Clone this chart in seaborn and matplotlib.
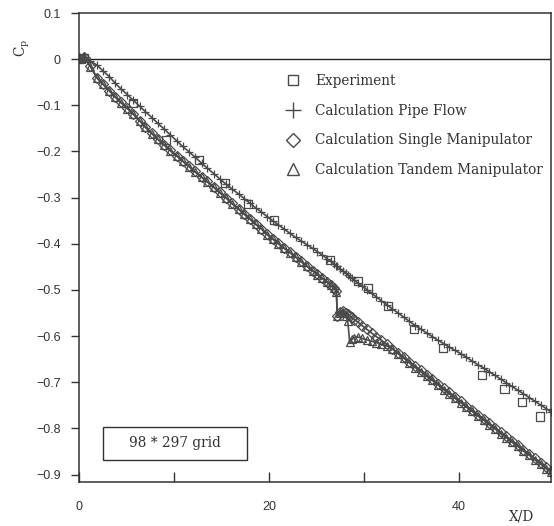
import numpy as np
import seaborn as sns
import matplotlib.pyplot as plt
from matplotlib.lines import Line2D
from matplotlib.patches import Rectangle

# streamwise stations of the calculations (X/D)
x_calc = [0, 0.5, 1.2, 1.9, 2.5, 3.2, 3.8, 4.4, 5.1, 5.7, 6.4, 7.0, 7.7, 8.3, 9.0,
          9.6, 10.3, 10.9, 11.6, 12.2, 12.9, 13.5, 14.2, 14.8, 15.5, 16.1, 16.8, 17.4,
          18.0, 18.6, 19.2, 19.8, 20.4, 21.0, 21.6, 22.2, 22.8, 23.4, 24.0, 24.6, 25.1,
          25.6, 26.1, 26.5, 26.9, 27.1, 27.2, 27.5, 27.8, 28.1, 28.3, 28.5, 28.7, 29.0,
          29.4, 29.8, 30.3, 30.8, 31.3, 31.8, 32.4, 33.0, 33.6, 34.2, 34.8, 35.4, 36.0,
          36.6, 37.2, 37.8, 38.4, 39.0, 39.6, 40.2, 40.8, 41.4, 42.0, 42.6, 43.2, 43.8,
          44.4, 45.0, 45.6, 46.2, 46.8, 47.4, 48.0, 48.6, 49.2, 49.7]

cp_pipe = [0.003, 0.004, -0.004, -0.013, -0.025, -0.038, -0.052, -0.064, -0.077, -0.089,
           -0.102, -0.114, -0.127, -0.139, -0.152, -0.164, -0.177, -0.189, -0.201, -0.212,
           -0.225, -0.236, -0.248, -0.259, -0.271, -0.281, -0.292, -0.302, -0.312, -0.322,
           -0.331, -0.341, -0.350, -0.359, -0.368, -0.377, -0.386, -0.394, -0.402, -0.410,
           -0.417, -0.424, -0.432, -0.438, -0.444, -0.447, -0.449, -0.454, -0.459, -0.464,
           -0.468, -0.471, -0.474, -0.479, -0.485, -0.491, -0.499, -0.507, -0.515, -0.523,
           -0.532, -0.541, -0.550, -0.559, -0.568, -0.577, -0.585, -0.593, -0.601, -0.609,
           -0.616, -0.624, -0.631, -0.638, -0.646, -0.654, -0.662, -0.669, -0.677, -0.685,
           -0.693, -0.701, -0.709, -0.717, -0.725, -0.733, -0.741, -0.749, -0.757, -0.764]

cp_single = [0.002, 0.004, -0.015, -0.040, -0.053, -0.068, -0.081, -0.093, -0.106, -0.118,
             -0.133, -0.147, -0.161, -0.173, -0.186, -0.197, -0.209, -0.220, -0.232, -0.243,
             -0.255, -0.265, -0.277, -0.288, -0.300, -0.312, -0.324, -0.335, -0.346, -0.357,
             -0.367, -0.379, -0.389, -0.399, -0.409, -0.418, -0.428, -0.438, -0.448, -0.458,
             -0.466, -0.474, -0.482, -0.489, -0.495, -0.503, -0.556, -0.547, -0.545, -0.549,
             -0.552, -0.556, -0.559, -0.564, -0.570, -0.577, -0.585, -0.593, -0.601, -0.608,
             -0.618, -0.627, -0.636, -0.646, -0.655, -0.665, -0.674, -0.684, -0.693, -0.703,
             -0.713, -0.722, -0.732, -0.741, -0.751, -0.760, -0.770, -0.779, -0.789, -0.798,
             -0.808, -0.817, -0.827, -0.836, -0.846, -0.855, -0.865, -0.874, -0.884, -0.892]

cp_tandem = [0.002, 0.004, -0.016, -0.041, -0.054, -0.069, -0.082, -0.094, -0.107, -0.119,
             -0.134, -0.148, -0.162, -0.174, -0.187, -0.198, -0.210, -0.221, -0.233, -0.244,
             -0.256, -0.266, -0.278, -0.289, -0.301, -0.313, -0.325, -0.336, -0.347, -0.358,
             -0.368, -0.380, -0.390, -0.400, -0.410, -0.419, -0.429, -0.439, -0.449, -0.459,
             -0.467, -0.475, -0.483, -0.490, -0.496, -0.504, -0.557, -0.549, -0.548, -0.556,
             -0.568, -0.612, -0.607, -0.603, -0.602, -0.605, -0.608, -0.611, -0.614, -0.617,
             -0.621, -0.628, -0.638, -0.648, -0.658, -0.668, -0.677, -0.687, -0.696, -0.706,
             -0.716, -0.725, -0.735, -0.744, -0.754, -0.763, -0.773, -0.782, -0.792, -0.801,
             -0.811, -0.820, -0.830, -0.839, -0.849, -0.858, -0.868, -0.877, -0.887, -0.895]

x_exp = [0.0, 0.25, 0.5, 5.7, 9.2, 12.6, 15.4, 17.8, 20.5, 26.4, 29.4, 30.4, 32.5, 35.3,
         38.3, 42.4, 44.8, 46.6, 48.5]
cp_exp = [0.0, 0.0, 0.002, -0.095, -0.176, -0.219, -0.268, -0.313, -0.349, -0.436, -0.481,
          -0.495, -0.534, -0.585, -0.625, -0.684, -0.714, -0.743, -0.774]

labels = ['Experiment', 'Calculation Pipe Flow', 'Calculation Single Manipulator',
          'Calculation Tandem Manipulator']

ink = '#4a4a4a'

sns.set_style('ticks')
plt.rcParams['font.family'] = ['Liberation Sans', 'DejaVu Sans']
serif = {'family': 'DejaVu Serif', 'size': 9.8}

fig = plt.figure(figsize=(5.54, 5.26), dpi=100)
ax = fig.add_axes([79 / 554, 1 - 482 / 526, 472 / 554, 469 / 526])

for cp, mk, ms in [(cp_pipe, '+', 5.5), (cp_single, 'D', 5), (cp_tandem, '^', 5.5)]:
    sns.lineplot(x=x_calc, y=cp, sort=False, estimator=None, ax=ax, color=ink,
                 linewidth=1.2, marker=mk, markersize=ms, markerfacecolor='none',
                 markeredgecolor=ink, markeredgewidth=0.9)
sns.scatterplot(x=x_exp, y=cp_exp, marker='s', s=34, facecolor='none',
                edgecolor=ink, linewidth=0.9, ax=ax)

ax.axhline(0, color='#222222', lw=1.0, zorder=0)
ax.set_xlim(0, 49.7)
ax.set_ylim(-0.916, 0.1)
ax.set_xticks([0, 20, 40])
ax.set_xticks([10, 30], minor=True)
ax.set_yticks(np.round(np.arange(-0.9, 0.11, 0.1), 1))
ax.set_yticklabels(['\u22120.9', '\u22120.8', '\u22120.7', '\u22120.6', '\u22120.5',
                    '\u22120.4', '\u22120.3', '\u22120.2', '\u22120.1', '0', '0.1'])
ax.tick_params(axis='y', direction='out', length=6, width=1, labelsize=9, pad=7,
               color='#333333', labelcolor='#333333')
ax.tick_params(axis='x', which='both', direction='in', length=7, width=1,
               labelsize=9, pad=14, color='#333333', labelcolor='#333333')
ax.set_xlabel('')
ax.set_ylabel('')
for s in ax.spines.values():
    s.set_color('#333333')
    s.set_linewidth(1.1)

handles = [
    Line2D([], [], ls='none', marker='s', ms=7, mfc='none', mec=ink, mew=1.0),
    Line2D([], [], ls='none', marker='+', ms=11, mec=ink, mew=1.0),
    Line2D([], [], ls='none', marker='D', ms=7, mfc='none', mec=ink, mew=1.0),
    Line2D([], [], ls='none', marker='^', ms=8, mfc='none', mec=ink, mew=1.0),
]
leg = ax.legend(handles, labels, loc='upper left', bbox_to_anchor=(0.436, 0.870),
                frameon=False, prop=serif, handlelength=1.2, handletextpad=1.05,
                labelspacing=1.15, borderpad=0, borderaxespad=0)
for t in leg.get_texts():
    t.set_color('#333333')

ax.add_patch(Rectangle((0.0515, 0.0469), 0.304, 0.071, transform=ax.transAxes,
                       fill=False, edgecolor='#333333', lw=1.0))
ax.text(0.2034, 0.0824, '98 * 297 grid', transform=ax.transAxes, ha='center',
        va='center', fontdict=serif, color='#333333')

fig.text(522 / 554, 1 - 516 / 526, 'X/D', ha='center', va='center',
         fontdict=serif, color='#333333')
fig.text(22 / 554, 1 - 48 / 526, r'C$_\mathregular{p}$', rotation=90, ha='center',
         va='center', fontdict=serif, color='#333333')

fig.savefig('out.png', dpi=100)
